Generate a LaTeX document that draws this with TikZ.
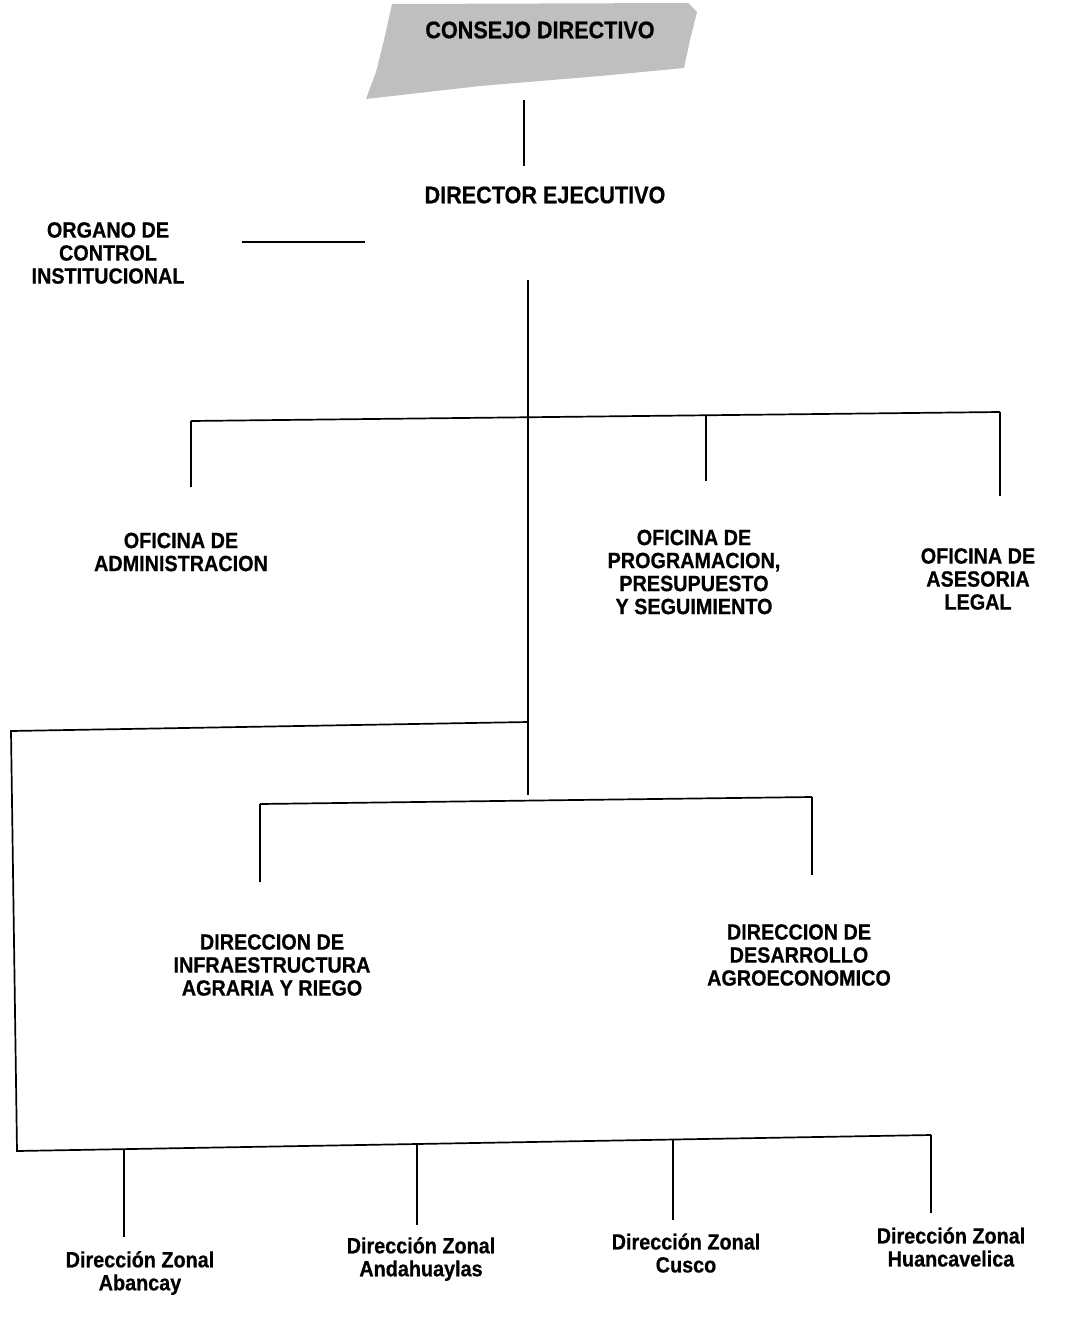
\documentclass[tikz,border=0pt]{standalone}
\usepackage{fontspec}
\setmainfont{Liberation Sans}[FakeStretch=0.9, BoldFeatures={FakeBold=0.6}]
\begin{document}
\begin{tikzpicture}[x=1pt,y=-1pt,
  lbl/.style={font=\bfseries\fontsize{22}{23}\selectfont, align=center, inner sep=0pt},
  big/.style={font=\bfseries\fontsize{24}{25}\selectfont, inner sep=0pt},
  conn/.style={line width=1.7pt},
  halftone/.style={fill=black!25}]
\useasboundingbox (0,0) rectangle (1073,1341);
% halftone background of the top box
\fill[halftone] (392,4) -- (688,3) -- (697,12) -- (690,40) -- (684,68) -- (600,76) -- (480,86) -- (366,99) -- (376,72) -- (384,40) -- cycle;
\node[big] (consejo) at (540,30) {CONSEJO DIRECTIVO};
\node[big] (director) at (545,195) {DIRECTOR EJECUTIVO};
\node[lbl] (organo) at (108,253) {ORGANO DE\\CONTROL\\INSTITUCIONAL};
\node[lbl] (admin) at (181,552) {OFICINA DE\\ADMINISTRACION};
\node[lbl] (prog) at (694,572) {OFICINA DE\\PROGRAMACION,\\PRESUPUESTO\\Y SEGUIMIENTO};
\node[lbl] (legal) at (978,579) {OFICINA DE\\ASESORIA\\LEGAL};
\node[lbl] (infra) at (272,965) {DIRECCION DE\\INFRAESTRUCTURA\\AGRARIA Y RIEGO};
\node[lbl] (agro) at (799,955) {DIRECCION DE\\DESARROLLO\\AGROECONOMICO};
\node[lbl] (abancay) at (140,1273) {Dirección Zonal\\Abancay};
\node[lbl] (andahuaylas) at (421,1259) {Dirección Zonal\\Andahuaylas};
\node[lbl] (cusco) at (686,1253) {Dirección Zonal\\Cusco};
\node[lbl] (huanca) at (951,1247) {Dirección Zonal\\Huancavelica};
% coordinates
\coordinate (cTop) at (524,100);
\coordinate (cDirTop) at (524,166);
\coordinate (oR) at (242,242);
\coordinate (oL) at (365,242);
\coordinate (tTop) at (528,280);
\coordinate (tJ1) at (528,416);
\coordinate (tJ2) at (528,722);
\coordinate (tBot) at (528,795);
\coordinate (h1L) at (191,421);
\coordinate (h1R) at (1000,412);
\coordinate (adminTop) at (191,487);
\coordinate (progJ) at (706,415);
\coordinate (progTop) at (706,481);
\coordinate (legalTop) at (1000,496);
\coordinate (lCorner) at (11,731);
\coordinate (lBot) at (17,1151);
\coordinate (bR) at (931,1135);
\coordinate (abJ) at (124,1149);
\coordinate (abTop) at (124,1237);
\coordinate (anJ) at (417,1144);
\coordinate (anTop) at (417,1225);
\coordinate (cuJ) at (673,1140);
\coordinate (cuTop) at (673,1220);
\coordinate (huTop) at (931,1213);
\coordinate (mL) at (260,804);
\coordinate (mR) at (812,797);
\coordinate (infraTop) at (260,882);
\coordinate (agroTop) at (812,875);
% connectors
\draw[conn] (cTop) -- (cDirTop);
\draw[conn] (oR) -- (oL);
\draw[conn] (tTop) -- (tBot);
\draw[conn] (h1L) -- (h1R);
\draw[conn] (h1L) -- (adminTop);
\draw[conn] (progJ) -- (progTop);
\draw[conn] (h1R) -- (legalTop);
\draw[conn] (tJ2) -- (lCorner) -- (lBot) -- (bR);
\draw[conn] (abJ) -- (abTop);
\draw[conn] (anJ) -- (anTop);
\draw[conn] (cuJ) -- (cuTop);
\draw[conn] (bR) -- (huTop);
\draw[conn] (mL) -- (mR);
\draw[conn] (mL) -- (infraTop);
\draw[conn] (mR) -- (agroTop);
\end{tikzpicture}
\end{document}
